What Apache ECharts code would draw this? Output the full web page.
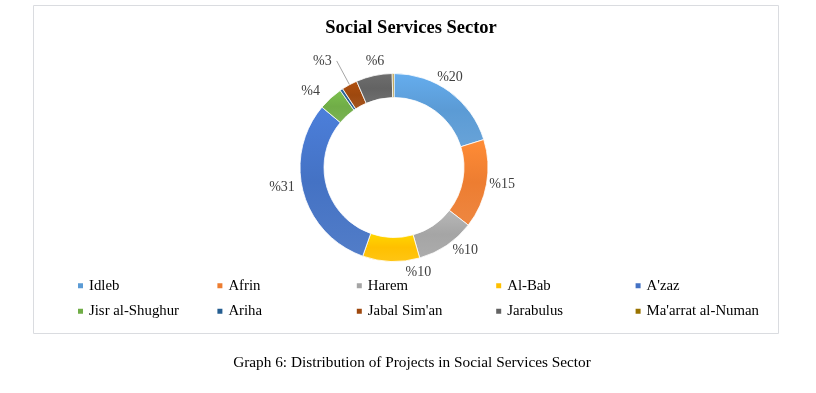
<!DOCTYPE html>
<html>
<head>
<meta charset="utf-8">
<script src="https://cdn.jsdelivr.net/npm/echarts@6/dist/echarts.min.js"></script>
<style>
html,body{margin:0;padding:0;background:#fff;}
#chart{width:816px;height:393px;}
</style>
</head>
<body>
<div id="chart"></div>
<script>
var titleText = 'Social Services Sector';
var captionText = 'Graph 6: Distribution of Projects in Social Services Sector';
var categories = ['Idleb', 'Afrin', 'Harem', 'Al-Bab', "A'zaz", 'Jisr al-Shughur', 'Ariha', "Jabal Sim'an", 'Jarabulus', "Ma'arrat al-Numan"];
var shares = [20.2, 15.3, 10.1, 9.8, 30.7, 4.2, 0.5, 2.7, 6.2, 0.3];
var labelShown = [true, true, true, true, true, true, false, true, true, false];
var colors = ['#5B9BD5', '#ED7D31', '#A5A5A5', '#FFC000', '#4472C4', '#70AD47', '#255E91', '#9E480E', '#636363', '#997300'];

// small nudges of the data labels (Excel "best fit" placement)
var labelNudge = {
  'Idleb': [-11, 1], 'Afrin': [-3, -3], 'Harem': [8, -11], 'Al-Bab': [28, -8],
  "A'zaz": [-3, -10], 'Jisr al-Shughur': [-7, 7], 'Jarabulus': [5, 4]
};

var serif = '"Liberation Serif", "Times New Roman", serif';
var chart = echarts.init(document.getElementById('chart'), null, {renderer: 'canvas'});

function pct(p) { return '%' + Math.round(p.percent); }

function shade(c) {
  return new echarts.graphic.LinearGradient(0, 0, 0, 1, [
    {offset: 0, color: echarts.color.lift(c, -0.12)},
    {offset: 0.5, color: c},
    {offset: 1, color: echarts.color.lift(c, 0.08)}
  ]);
}

var ringData = categories.map(function (name, i) {
  var item = {name: name, value: shares[i], itemStyle: {color: shade(colors[i])}};
  if (name === "Jabal Sim'an") {
    item.label = {show: true};
    item.labelLine = {show: true, length: 27, length2: 0, lineStyle: {color: '#A6A6A6', width: 1}};
  }
  return item;
});

var labelData = categories.map(function (name, i) {
  var show = labelShown[i] && name !== "Jabal Sim'an";
  return {
    name: name, value: shares[i],
    label: {show: show, offset: labelNudge[name] || [0, 0]}
  };
});

chart.setOption({
  animation: false,
  backgroundColor: '#fff',
  title: [{
    text: titleText,
    left: 406, top: 14, textAlign: 'center',
    textStyle: {fontFamily: serif, fontSize: 18.5, fontWeight: 'bold', color: '#000'}
  }, {
    text: captionText,
    left: 407, top: 350, textAlign: 'center',
    textStyle: {fontFamily: serif, fontSize: 15.3, fontWeight: 'normal', color: '#000'}
  }],
  graphic: [{
    type: 'rect', shape: {x: 33.5, y: 5.5, width: 745, height: 328},
    style: {fill: null, stroke: '#DADCE0', lineWidth: 1}, silent: true, z: -1
  }],
  legend: {
    left: 76, top: 273, width: 705, padding: 0,
    itemWidth: 7, itemHeight: 7, itemGap: 0,
    icon: 'rect',
    data: categories.map(function (name, i) {
      return {name: name, itemStyle: {color: colors[i]}};
    }),
    textStyle: {fontFamily: serif, fontSize: 14.8, color: '#000', width: 126.4, lineHeight: 25.5}
  },
  series: [{
    type: 'pie',
    name: 'ring',
    center: [394, 167.5],
    radius: [70, 94],
    startAngle: 90,
    clockwise: true,
    avoidLabelOverlap: false,
    data: ringData,
    itemStyle: {borderColor: '#fff', borderWidth: 0.8},
    label: {
      show: false, position: 'outside',
      fontFamily: serif, fontSize: 14, color: '#404040',
      formatter: pct
    },
    labelLine: {show: false},
    emphasis: {disabled: true}
  }, {
    type: 'pie',
    name: 'labels',
    center: [394, 167.5],
    radius: [99, 121],
    startAngle: 90,
    clockwise: true,
    avoidLabelOverlap: false,
    silent: true,
    data: labelData,
    itemStyle: {color: 'rgba(0,0,0,0)', borderWidth: 0},
    label: {
      position: 'inside',
      fontFamily: serif, fontSize: 14, color: '#404040',
      formatter: pct
    },
    labelLine: {show: false},
    emphasis: {disabled: true}
  }]
});
</script>
</body>
</html>
